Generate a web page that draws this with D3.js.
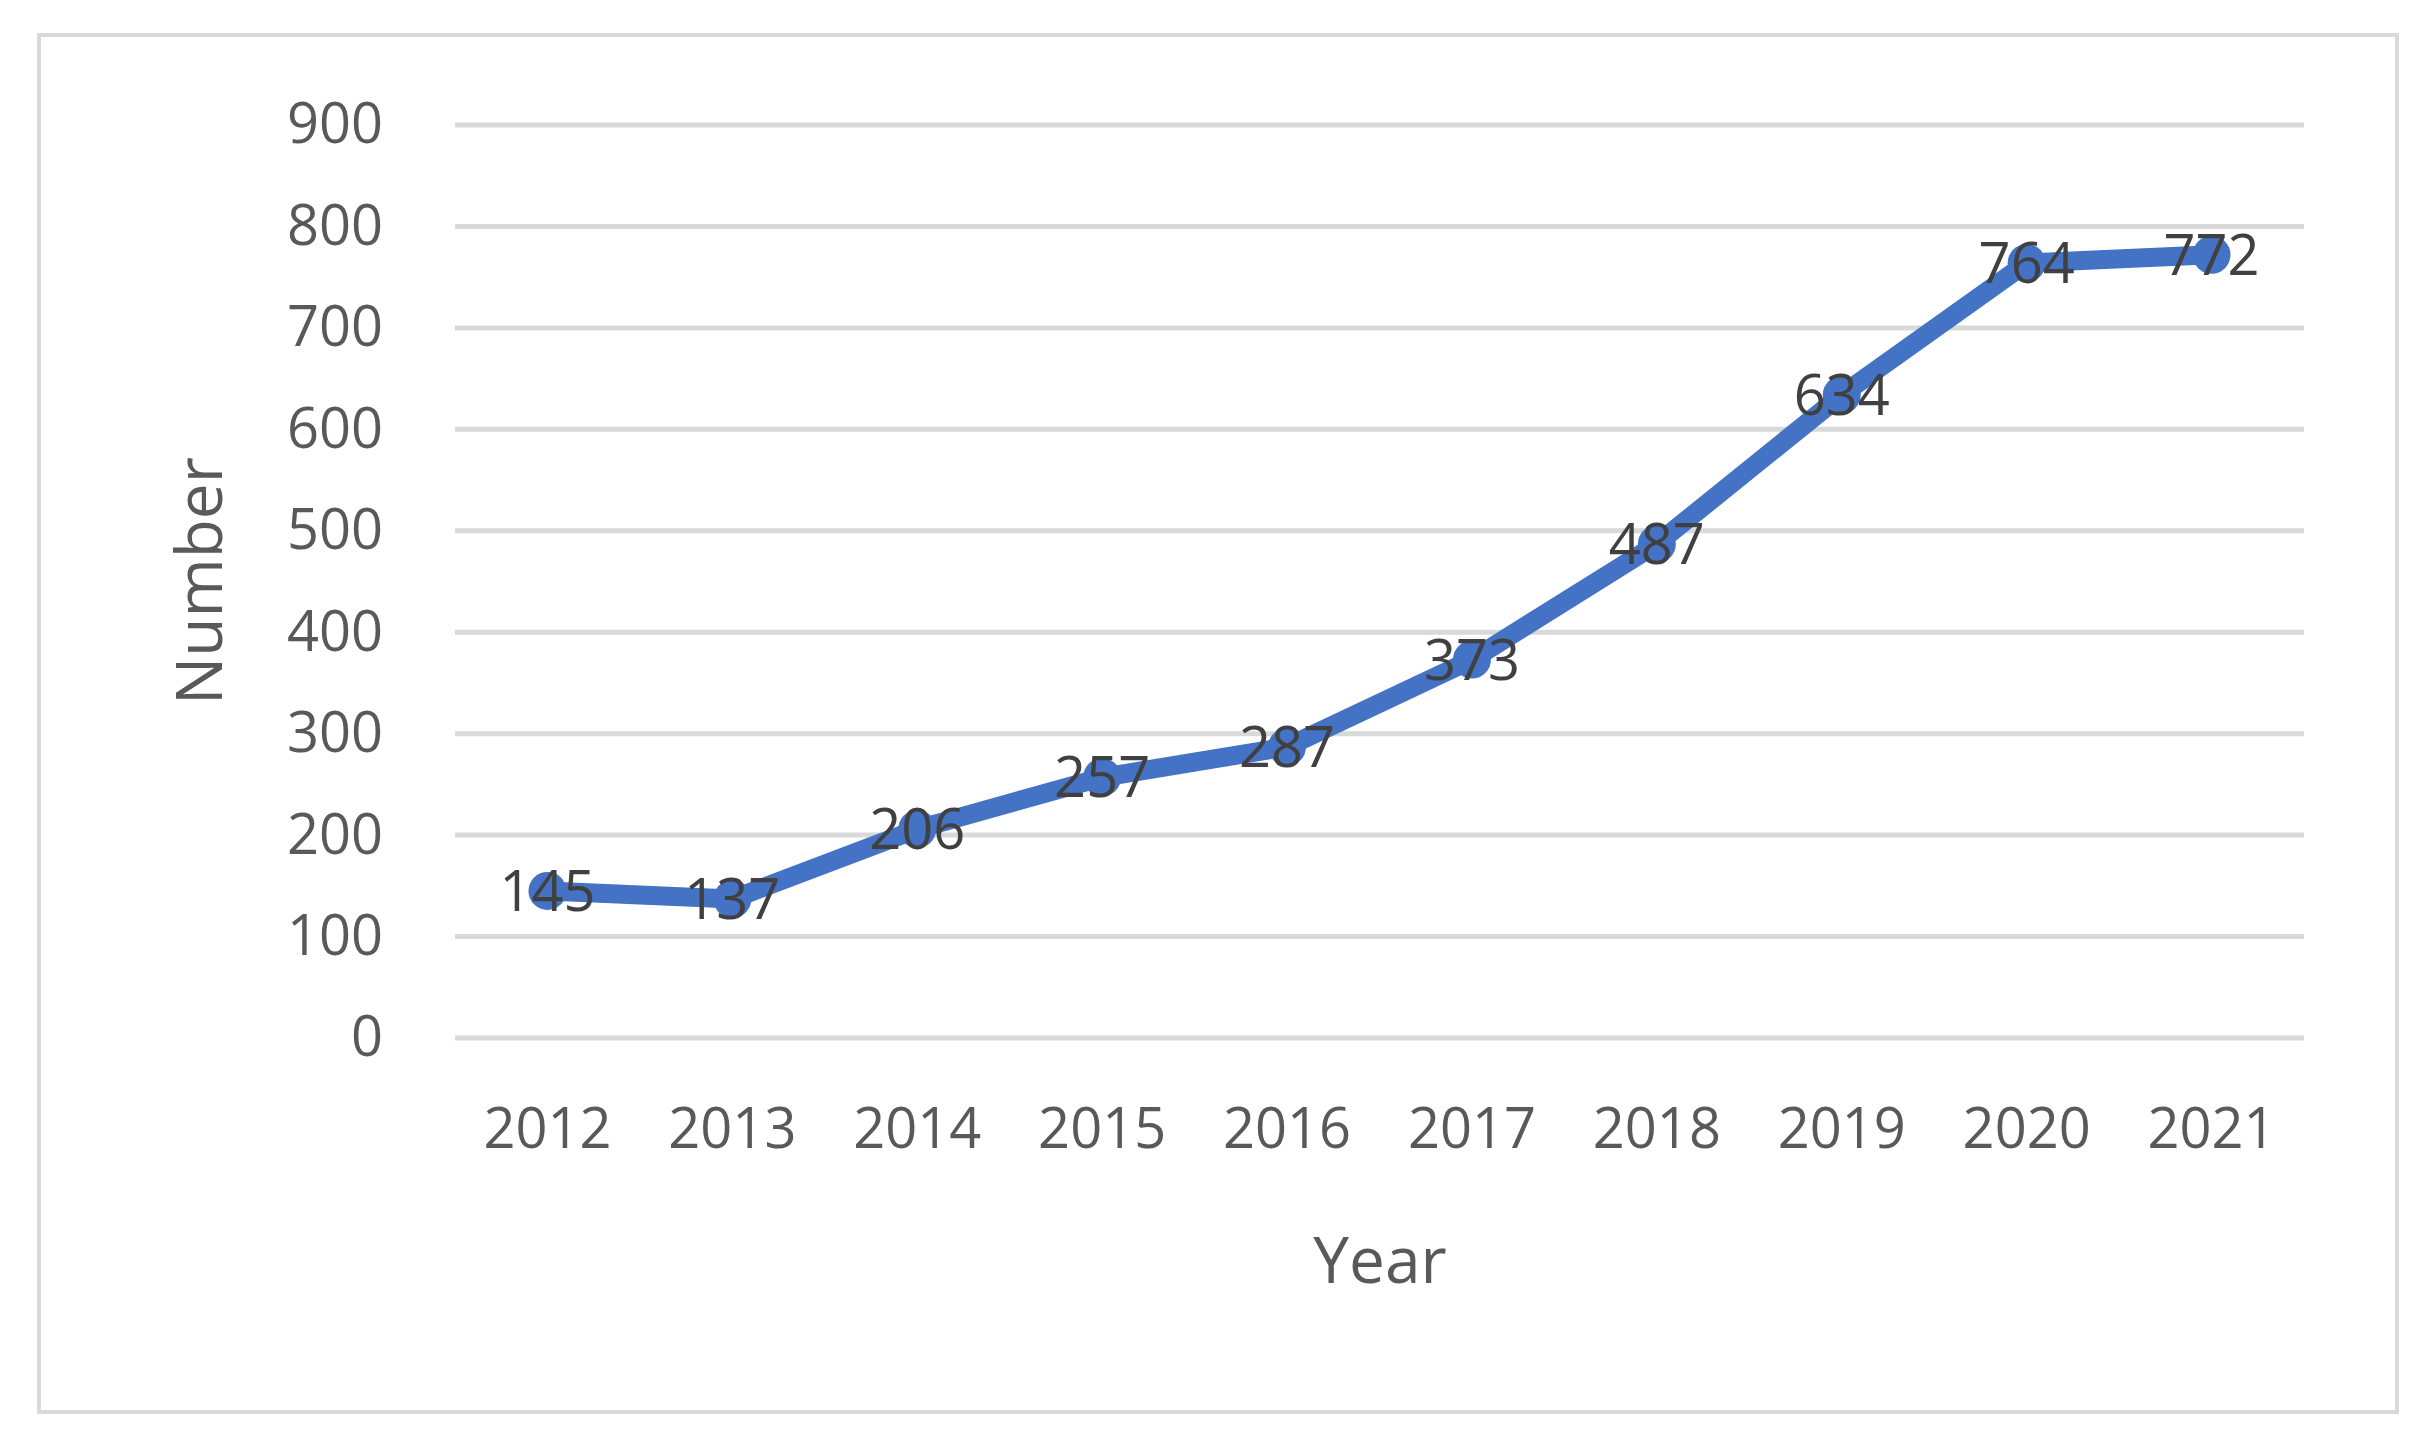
<!DOCTYPE html><html><head><meta charset="utf-8">
<script src="https://cdn.jsdelivr.net/npm/d3@7"></script>
<style>body{margin:0;background:#fff}</style></head><body>
<svg id="c" width="2436" height="1453"></svg>
<script>
const years=["2012","2013","2014","2015","2016","2017","2018","2019","2020","2021"];
const values=[145,137,206,257,287,373,487,634,764,772];
const yTicks=[0,100,200,300,400,500,600,700,800,900];
const svg=d3.select("#c");
const font="'Open Sans', Calibri, sans-serif";
svg.append("rect").attr("x",39).attr("y",35).attr("width",2358).attr("height",1377).attr("fill","#fff").attr("stroke","#d9d9d9").attr("stroke-width",4);
const x=d3.scaleBand().domain(years).range([455,2304]);
const y=d3.scaleLinear().domain([0,900]).range([1038,125]);
const g=svg.append("g");
g.selectAll(".grid").data(yTicks).join("line").attr("x1",455).attr("x2",2304).attr("y1",d=>y(d)).attr("y2",d=>y(d)).attr("stroke","#d9d9d9").attr("stroke-width",5);
const ya=svg.append("g").attr("transform","translate(455,0)").call(d3.axisLeft(y).tickValues(yTicks).tickSize(0).tickPadding(72));
ya.select(".domain").remove();
ya.selectAll("text").attr("font-family",font).attr("font-size",56).attr("fill","#595959");
const xa=svg.append("g").attr("transform","translate(0,1038)").call(d3.axisBottom(x).tickSize(0).tickPadding(70));
xa.select(".domain").remove();
xa.selectAll("text").attr("font-family",font).attr("font-size",56).attr("fill","#595959");
const cx=d=>x(d)+x.bandwidth()/2;
svg.append("path").datum(values).attr("fill","none").attr("stroke","#4472C4").attr("stroke-width",19).attr("stroke-linejoin","round").attr("stroke-linecap","round")
 .attr("d",d3.line().x((d,i)=>cx(years[i])).y(d=>y(d)));
svg.selectAll(".pt").data(values).join("circle").attr("cx",(d,i)=>cx(years[i])).attr("cy",d=>y(d)).attr("r",19).attr("fill","#4472C4");
svg.selectAll(".lb").data(values).join("text").attr("x",(d,i)=>cx(years[i])).attr("y",d=>y(d)+20).attr("text-anchor","middle")
 .attr("font-family",font).attr("font-size",56).attr("fill","#404040").text(d=>d);
svg.append("text").attr("x",1380).attr("y",1283).attr("text-anchor","middle").attr("font-family",font).attr("font-size",64).attr("fill","#595959").text("Year");
svg.append("text").attr("transform","translate(222,581) rotate(-90)").attr("text-anchor","middle").attr("font-family",font).attr("font-size",64).attr("fill","#595959").text("Number");
</script></body></html>
